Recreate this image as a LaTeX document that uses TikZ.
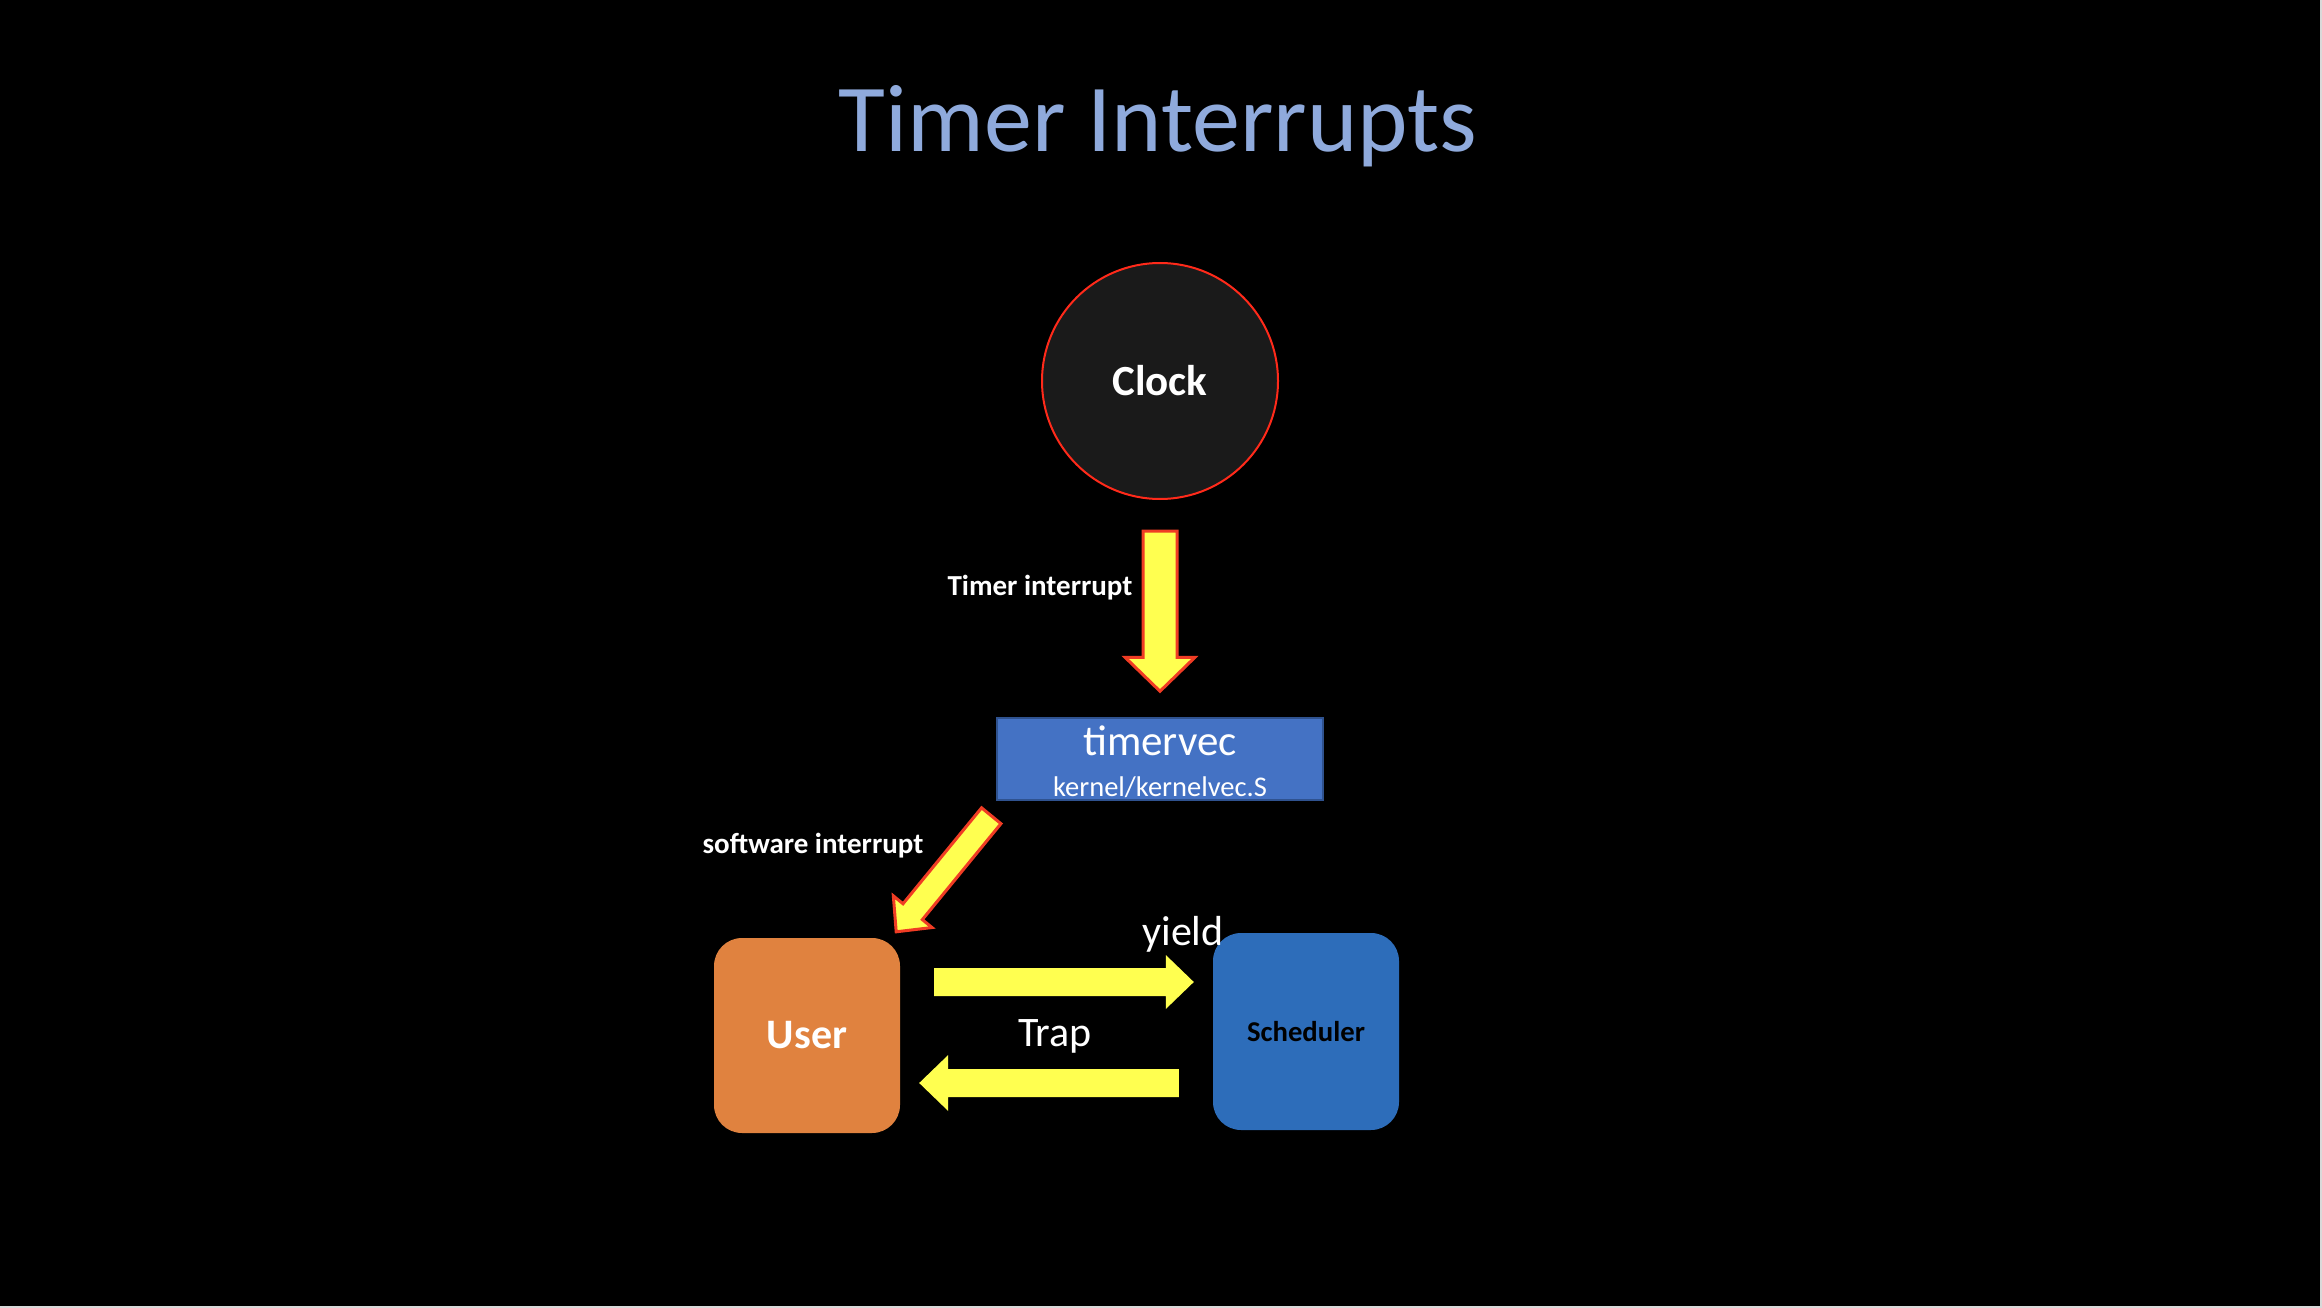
\documentclass[tikz,border=0pt]{standalone}
\usepackage{fontspec}
\setmainfont{Carlito}
\usetikzlibrary{calc}
\definecolor{titleblue}{HTML}{8FAADC}
\definecolor{clockfill}{HTML}{1A1A1A}
\definecolor{clockred}{HTML}{FF2A1A}
\definecolor{arrowyellow}{HTML}{FFFF50}
\definecolor{arrowred}{HTML}{F03C24}
\definecolor{tvblue}{HTML}{4472C4}
\definecolor{tvborder}{HTML}{2F528F}
\definecolor{userorange}{HTML}{E0823F}
\definecolor{schedblue}{HTML}{2D6DBA}
\newcommand\fatarrow[6][]{%
  \coordinate (fahb) at ($(#3)!#6!(#2)$);
  \draw[#1] ($(#2)!#4!90:(#3)$) -- ($(fahb)!#4!-90:(#2)$) -- ($(fahb)!#5!-90:(#2)$) -- (#3)
    -- ($(fahb)!#5!90:(#2)$) -- ($(fahb)!#4!90:(#2)$) -- ($(#2)!#4!-90:(#3)$) -- cycle;
}
\begin{document}
\begin{tikzpicture}[x=1pt,y=-1pt,
  txt/.style={inner sep=0pt, anchor=base, text=white},
  fatout/.style={fill=arrowyellow, draw=arrowred, line width=3pt, line join=miter},
  fatplain/.style={fill=arrowyellow, draw=none},
  box/.style={inner sep=0pt, rounded corners=28pt, draw=none}]
\useasboundingbox (0,0) rectangle (2322,1308);
\fill[black] (0,0) rectangle (2322,1308);
\fill[black!15] (0,1306) rectangle (2322,1308);
\fill[black!15] (2320,0) rectangle (2322,1308);

\node[txt, text=titleblue, font=\fontsize{96}{110}\selectfont] (title) at (1158,152) {Timer Interrupts};

\node[circle, draw=clockred, line width=2pt, fill=clockfill, minimum size=236pt, inner sep=0pt,
  font=\fontsize{43}{50}\selectfont\bfseries, text=white] (clock) at (1160,381) {Clock};

\node[draw=tvborder, line width=1.5pt, fill=tvblue, minimum width=326pt, minimum height=82pt, inner sep=0pt] (tv) at (1160,759) {};
\node[txt, font=\fontsize{43}{50}\selectfont] (tvname) at (1160,755) {timervec};
\node[txt, font=\fontsize{28.5}{34}\selectfont] (tvfile) at (1160,796) {kernel/kernelvec.S};

\node[box, fill=userorange, minimum width=186pt, minimum height=195pt,
  font=\fontsize{42}{50}\selectfont\bfseries, text=white] (user) at (807,1035.5) {User};
\node[box, fill=schedblue, minimum width=186pt, minimum height=197pt,
  font=\fontsize{28.7}{34}\selectfont\bfseries, text=black] (sched) at (1306,1031.5) {Scheduler};

\node[txt, font=\fontsize{29}{34}\selectfont\bfseries] (lbtimer) at (1040,595) {Timer interrupt};
\node[txt, font=\fontsize{29}{34}\selectfont\bfseries] (lbsw) at (813,853) {software interrupt};
\node[txt, font=\fontsize{42}{50}\selectfont] (lbyield) at (1183,945) {yield};
\node[txt, font=\fontsize{42}{50}\selectfont] (lbtrap) at (1055,1046) {Trap};

\coordinate (a1s) at ($(clock.south)+(0,31)$);
\coordinate (a1e) at ($(tv.north)+(0,-26)$);
\coordinate (a2s) at ($(tv.south west)+(-5,15)$);
\coordinate (a2e) at ($(user.north east)+(-4,-6)$);
\coordinate (a3s) at ($(user.east)+(34,-53.5)$);
\coordinate (a3e) at ($(sched.west)+(-19,-49.5)$);
\coordinate (a4s) at ($(sched.west)+(-34,51.5)$);
\coordinate (a4e) at ($(user.east)+(19,47.5)$);

\fatarrow[fatout]{a1s}{a1e}{17pt}{35pt}{34pt}
\fatarrow[fatout]{a2s}{a2e}{12.5pt}{25pt}{26pt}
\fatarrow[fatplain]{a3s}{a3e}{14pt}{27pt}{28pt}
\fatarrow[fatplain]{a4s}{a4e}{14pt}{28pt}{29pt}
\end{tikzpicture}
\end{document}
